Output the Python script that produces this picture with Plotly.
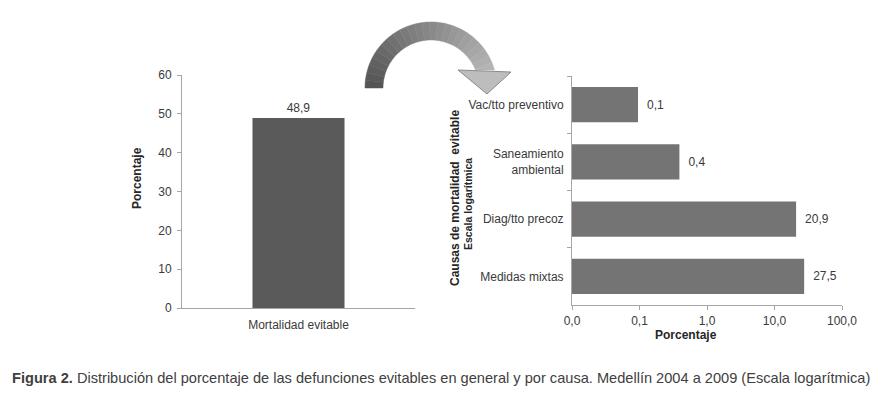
import numpy as np
import plotly.graph_objects as go

W, H = 882, 395

# ---- data ----
left_categories = ["Mortalidad evitable"]
left_values = [48.9]
left_ticks = [0, 10, 20, 30, 40, 50, 60]

right_categories = ["Vac/tto preventivo", "Saneamiento<br>ambiental", "Diag/tto precoz", "Medidas mixtas"]
right_values = [0.095, 0.39, 20.9, 27.5]
right_labels = ["0,1", "0,4", "20,9", "27,5"]
right_tickvals = [0.01, 0.1, 1, 10, 100]
right_ticktext = ["0,0", "0,1", "1,0", "10,0", "100,0"]

caption = ("<b>Figura 2.</b> Distribución del porcentaje de las defunciones evitables en general y por causa. "
           "Medellín 2004 a 2009 (Escala logarítmica)")

def px(x):
    return x / W

def py(y):
    return 1 - y / H

FONT = "Liberation Sans, Arial, sans-serif"
TXT = "#3a3a3a"
AX = "#a6a6a6"

fig = go.Figure()
fig.add_trace(go.Bar(
    x=left_categories, y=left_values, marker=dict(color="#5a5a5a", line=dict(width=0)),
    text=["48,9"], textposition="outside", textfont=dict(size=12, color=TXT, family=FONT),
    cliponaxis=False, xaxis="x", yaxis="y", width=0.395, showlegend=False,
))
fig.add_trace(go.Bar(
    y=right_categories, x=right_values, orientation="h",
    marker=dict(color="#747474", line=dict(width=0)),
    text=right_labels, texttemplate="\u2002%{text}", textposition="outside",
    textfont=dict(size=12, color=TXT, family=FONT),
    cliponaxis=False, xaxis="x2", yaxis="y2", width=0.62, showlegend=False,
))

axis_common = dict(showgrid=False, zeroline=False, showline=True, linecolor=AX, linewidth=1,
                   ticks="outside", tickcolor=AX, ticklen=4, automargin=False,
                   tickfont=dict(size=12, color=TXT, family=FONT))

fig.update_layout(
    template="none",
    width=W, height=H, margin=dict(l=0, r=0, t=0, b=0, pad=0, autoexpand=False),
    paper_bgcolor="white", plot_bgcolor="white", separators=",.",
    font=dict(family=FONT, color=TXT),
    xaxis=dict(domain=[px(182), px(415)], anchor="y", ticklabelstandoff=6, **{**axis_common, "ticks": ""}),
    yaxis=dict(domain=[py(308), py(75)], anchor="x", range=[0, 60], tickvals=left_ticks,
               ticklabelstandoff=3, **axis_common),
    xaxis2=dict(domain=[px(572), px(842)], anchor="y2", type="log", range=[-2, 2],
                tickvals=right_tickvals, ticktext=right_ticktext, ticklabelstandoff=1, **axis_common),
    yaxis2=dict(domain=[py(305), py(76)], anchor="x2", autorange="reversed",
                tickson="boundaries", ticklabelstandoff=5, **axis_common),
)

ann = [
    dict(text="<b>Porcentaje</b>", x=px(137), y=py(178), textangle=-90, font=dict(size=12, color="#262626")),
    dict(text="<b>Causas de mortalidad  evitable</b>", x=px(455), y=py(198), textangle=-90,
         font=dict(size=12, color="#262626")),
    dict(text="<b>Escala logarítmica</b>", x=px(468), y=py(204), textangle=-90,
         font=dict(size=10.5, color="#262626")),
    dict(text="<b>Porcentaje</b>", x=px(686), y=py(335), font=dict(size=12, color="#262626")),
    dict(text=caption, x=px(10), y=py(378), xanchor="left", font=dict(size=14.6, color="#404040")),
]
for a in ann:
    a.setdefault("xanchor", "center")
    a.update(xref="paper", yref="paper", showarrow=False, yanchor="middle")
    a["font"]["family"] = FONT
fig.update_layout(annotations=ann)

# ---- decorative curved arrow ----
cx, cy, ro, ri = 431, 88, 66, 48
end_y = 70
shapes = []
n = 24
angs = np.linspace(np.pi, np.arcsin((cy - end_y) / ro), n + 1)
for i in range(n):
    a0, a1 = angs[i], angs[i + 1]
    sub = np.linspace(a0, a1, 4)
    outer = [(cx + ro * np.cos(a), cy - ro * np.sin(a)) for a in sub]
    inner = [(cx + ri * np.cos(a), cy - ri * np.sin(a)) for a in sub[::-1]]
    if i == n - 1:
        inner[0] = (cx + np.sqrt(ri**2 - (cy - end_y)**2), end_y)
    pts = outer + inner
    path = "M " + " L ".join(f"{px(x):.5f},{py(y):.5f}" for x, y in pts) + " Z"
    g = int(85 + (180 - 85) * i / (n - 1))
    col = f"rgb({g},{g},{g})"
    shapes.append(dict(type="path", path=path, xref="paper", yref="paper",
                       fillcolor=col, line=dict(color=col, width=0.5), layer="above"))
head = [(458, 70), (511, 72), (487, 94)]
shapes.append(dict(type="path", path="M " + " L ".join(f"{px(x):.5f},{py(y):.5f}" for x, y in head) + " Z",
                   xref="paper", yref="paper", fillcolor="#bdbdbd", line=dict(color="#8a8a8a", width=1)))
fig.update_layout(shapes=shapes)

fig.write_html("out.html", config={"displayModeBar": False},
               post_script="document.body.style.margin='0px';document.body.style.overflow='hidden';")
